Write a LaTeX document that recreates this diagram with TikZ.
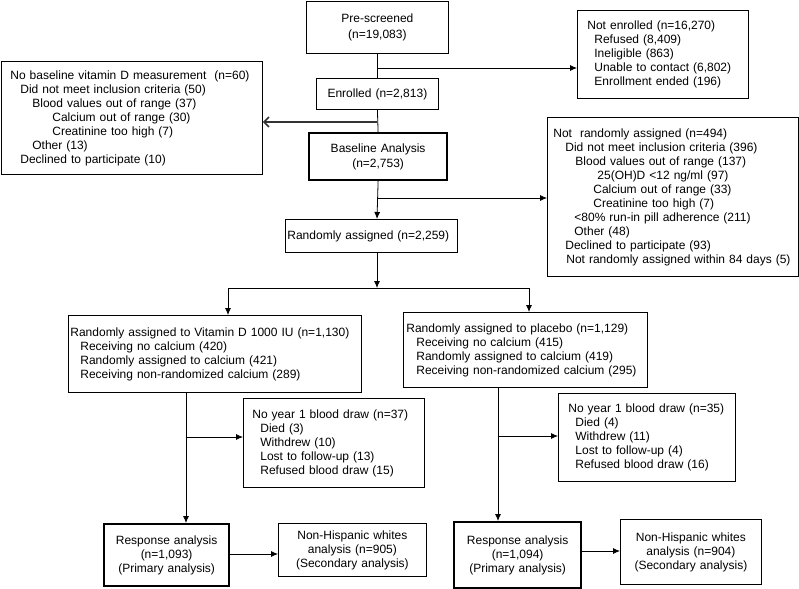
\documentclass[tikz,border=0pt]{standalone}
\usepackage{fontspec}
\setmainfont{Liberation Sans}
\usetikzlibrary{arrows.meta,calc}
\newcommand{\rowi}[2]{\hspace*{#1pt}\mbox{#2}}
\begin{document}
\begin{tikzpicture}[x=1pt,y=-1pt,
  box/.style={draw=black, line width=0.8pt, inner xsep=0pt, inner ysep=0pt, anchor=north west, font=\fontsize{12}{14}\selectfont},
  lbox/.style={box, align=left},
  cbox/.style={box, align=center},
  heavy/.style={line width=2.2pt},
  ln/.style={line width=0.8pt},
  arr/.style={ln, -{Latex[length=7pt,width=6pt]}},
  openarr/.style={line width=1.3pt, draw=black!80, -{Straight Barb[length=5pt,width=10pt,line width=1.6pt]}}]
\useasboundingbox (0,0) rectangle (799,588);

% main column
\node[cbox, text width=142pt, minimum height=52pt, font=\fontsize{12}{16}\selectfont] (pre) at (306,1) {Pre-screened\\(n=19,083)};
\node[cbox, text width=122pt, minimum height=31pt] (enr) at (316,78) {Enrolled (n=2,813)};
\node[cbox, heavy, text width=138pt, minimum height=47pt, font=\fontsize{12}{15}\selectfont] (base) at (308,132) {Baseline Analysis\\(n=2,753)};
\node[lbox, text width=172pt, minimum height=33pt] (rand) at (285,219) {\rowi{2}{Randomly assigned (n=2,259)}};

% exclusion boxes
\node[lbox, text width=171pt, minimum height=88pt] (notenr) at (577,10) {%
\rowi{10}{Not enrolled (n=16,270)}\\
\rowi{17}{Refused (8,409)}\\
\rowi{17}{Ineligible (863)}\\
\rowi{17}{Unable to contact (6,802)}\\
\rowi{17}{Enrollment ended (196)}};

\node[lbox, text width=261pt, minimum height=113pt] (leftbox) at (1,61) {%
\rowi{9}{No baseline vitamin D measurement\ \ (n=60)}\\
\rowi{19}{Did not meet inclusion criteria (50)}\\
\rowi{31}{Blood values out of range (37)}\\
\rowi{51}{Calcium out of range (30)}\\
\rowi{51}{Creatinine too high (7)}\\
\rowi{31}{Other (13)}\\
\rowi{19}{Declined to participate (10)}};

\node[lbox, text width=251pt, minimum height=159pt] (notrand) at (547,117) {%
\rowi{6}{Not\ \ randomly assigned (n=494)}\\
\rowi{18}{Did not meet inclusion criteria (396)}\\
\rowi{28}{Blood values out of range (137)}\\
\rowi{50}{25(OH)D <12 ng/ml (97)}\\
\rowi{46}{Calcium out of range (33)}\\
\rowi{46}{Creatinine too high (7)}\\
\rowi{27}{<80\% run-in pill adherence (211)}\\
\rowi{27}{Other (48)}\\
\rowi{18}{Declined to participate (93)}\\
\rowi{19}{Not randomly assigned within 84 days (5)}};

% arms
\node[lbox, text width=293pt, minimum height=77pt] (vitd) at (68,315) {%
\rowi{2}{Randomly assigned to Vitamin D 1000 IU (n=1,130)}\\
\rowi{12}{Receiving no calcium (420)}\\
\rowi{12}{Randomly assigned to calcium (421)}\\
\rowi{12}{Receiving non-randomized calcium (289)}};

\node[lbox, text width=244pt, minimum height=75pt] (plac) at (403,312) {%
\rowi{3}{Randomly assigned to placebo (n=1,129)}\\
\rowi{13}{Receiving no calcium (415)}\\
\rowi{13}{Randomly assigned to calcium (419)}\\
\rowi{13}{Receiving non-randomized calcium (295)}};

\node[lbox, text width=181pt, minimum height=89pt] (noyl) at (243,398) {%
\rowi{9}{No year 1 blood draw (n=37)}\\
\rowi{17}{Died (3)}\\
\rowi{17}{Withdrew (10)}\\
\rowi{17}{Lost to follow-up (13)}\\
\rowi{17}{Refused blood draw (15)}};

\node[lbox, text width=177pt, minimum height=88pt] (noyr) at (558,393) {%
\rowi{10}{No year 1 blood draw (n=35)}\\
\rowi{17}{Died (4)}\\
\rowi{17}{Withdrew (11)}\\
\rowi{17}{Lost to follow-up (4)}\\
\rowi{17}{Refused blood draw (16)}};

% bottom
\node[cbox, heavy, text width=125pt, minimum height=62pt] (respl) at (103,523) {Response analysis\\(n=1,093)\\(Primary analysis)};
\node[cbox, text width=148pt, minimum height=53pt] (nhl) at (278,523) {Non-Hispanic whites\\analysis (n=905)\\(Secondary analysis)};
\node[cbox, heavy, text width=127pt, minimum height=66pt] (respr) at (453,521) {Response analysis\\(n=1,094)\\(Primary analysis)};
\node[cbox, text width=141pt, minimum height=65pt] (nhr) at (620,519) {Non-Hispanic whites\\analysis (n=904)\\(Secondary analysis)};

% connectors
\coordinate (j1) at (377,68);
\coordinate (j2) at (377,122);
\coordinate (j3) at (377,198);
\coordinate (j4) at (377,288);
\draw[ln] (pre.south) -- (enr.north);
\draw[arr] (j1) -- (j1 -| notenr.west);
\draw[ln] (enr.south) -- (base.north);
\draw[openarr] (j2) -- (j2 -| leftbox.east);
\draw[arr] (base.south) -- (rand.north -| j3);
\draw[arr] (j3) -- (j3 -| notrand.west);
\draw[arr] (j4 |- rand.south) -- (j4);
\coordinate (sl) at (228,288);
\coordinate (sr) at (529,288);
\draw[ln] (sl) -- (sr);
\draw[arr] (sl) -- (sl |- vitd.north);
\draw[arr] (sr) -- (sr |- plac.north);
\coordinate (vt) at (186,392);
\coordinate (vb) at (186,437);
\draw[arr] (vt) -- (vt |- respl.north);
\draw[arr] (vb) -- (vb -| noyl.west);
\coordinate (pt) at (498,387);
\coordinate (pb) at (498,436);
\draw[arr] (pt) -- (pt |- respr.north);
\draw[arr] (pb) -- (pb -| noyr.west);
\coordinate (h1) at (228,554);
\coordinate (h2) at (580,551);
\draw[arr] (h1) -- (h1 -| nhl.west);
\draw[arr] (h2) -- (h2 -| nhr.west);
\end{tikzpicture}
\end{document}
